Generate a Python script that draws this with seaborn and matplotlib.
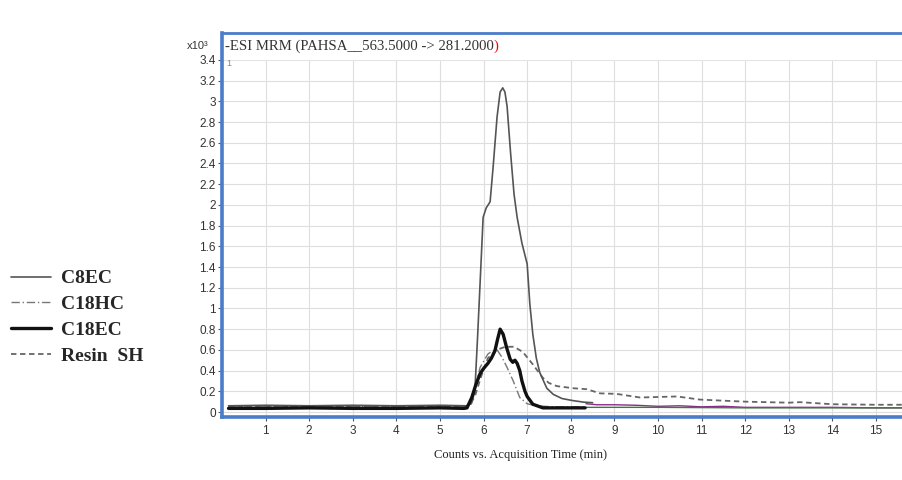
import numpy as np
import pandas as pd
import seaborn as sns
import matplotlib.pyplot as plt
from matplotlib.ticker import FuncFormatter

# retention time (min) / counts (x10^3)
c8ec_t = [0.15, 1.0, 2.0, 3.0, 4.0, 5.0, 5.6, 5.72, 5.80, 5.86, 5.92, 5.99, 6.06, 6.15, 6.22,
          6.31, 6.38, 6.44, 6.49, 6.54, 6.62, 6.70, 6.77, 6.88, 7.0, 7.06, 7.13, 7.21, 7.29,
          7.45, 7.6, 7.8, 8.05, 8.3, 8.5]
c8ec_v = [0.06, 0.065, 0.06, 0.065, 0.06, 0.065, 0.06, 0.08, 0.2, 0.7, 1.24, 1.88, 1.97, 2.03, 2.37,
          2.85, 3.09, 3.13, 3.09, 2.95, 2.5, 2.1, 1.88, 1.63, 1.43, 1.05, 0.75, 0.52, 0.38,
          0.23, 0.17, 0.13, 0.11, 0.095, 0.09]

c18hc_t = [0.15, 1.5, 3.0, 4.5, 5.6, 5.7, 5.8, 5.92, 6.1, 6.2, 6.31, 6.42, 6.54, 6.68, 6.83,
           7.0, 7.2, 7.6, 8.3]
c18hc_v = [0.05, 0.05, 0.055, 0.05, 0.05, 0.1, 0.22, 0.43, 0.56, 0.59, 0.60, 0.53, 0.43, 0.30, 0.14,
           0.08, 0.06, 0.05, 0.05]

c18ec_t = [0.15, 1.0, 2.0, 3.0, 4.0, 5.0, 5.55, 5.62, 5.73, 5.82, 5.92, 6.0, 6.10, 6.18, 6.26,
           6.32, 6.38, 6.45, 6.53, 6.61, 6.67, 6.72, 6.77, 6.83, 6.88, 6.95, 7.0, 7.13, 7.36, 8.33]
c18ec_v = [0.035, 0.035, 0.04, 0.035, 0.035, 0.04, 0.035, 0.04, 0.14, 0.26, 0.37, 0.42, 0.47, 0.52, 0.59,
           0.70, 0.80, 0.75, 0.62, 0.51, 0.48, 0.50, 0.47, 0.40, 0.30, 0.20, 0.15, 0.075, 0.04, 0.04]

resin_t = [0.15, 2.0, 4.0, 5.6, 5.7, 5.8, 5.95, 6.1, 6.3, 6.5, 6.7, 6.9, 7.13, 7.36, 7.5, 7.68,
           8.05, 8.37, 8.67, 9.05, 9.59, 10.0, 10.44, 10.96, 11.72, 12.0, 13.0, 13.26, 14.0, 15.0, 15.6]
resin_v = [0.05, 0.05, 0.05, 0.05, 0.08, 0.15, 0.35, 0.52, 0.60, 0.63, 0.63, 0.58, 0.46, 0.33, 0.28, 0.25,
           0.23, 0.22, 0.18, 0.175, 0.14, 0.145, 0.15, 0.12, 0.105, 0.10, 0.09, 0.095, 0.075, 0.07, 0.07]

# coloured traces after 8.3 min
purple_t = [8.35, 8.6, 9.0, 9.5, 10.0, 10.5, 11.0, 11.5, 12.0, 13.0, 14.0, 15.0, 15.6]
purple_v = [0.08, 0.07, 0.07, 0.065, 0.055, 0.06, 0.05, 0.055, 0.045, 0.045, 0.045, 0.04, 0.04]
green_t = [8.35, 10.0, 12.0, 15.6]
green_v = [0.045, 0.045, 0.04, 0.04]

y_ticks = [round(0.2 * i, 1) for i in range(18)]
x_ticks = list(range(1, 16))

sns.set_style("whitegrid", {"grid.color": "#dedede"})
plt.rcParams['font.family'] = ['Liberation Sans', 'DejaVu Sans']

blue = '#4a7cc9'
fig = plt.figure(figsize=(9.02, 4.8), dpi=100)
ax = fig.add_axes([0.2461, 0.1313, 0.754, 0.8])

sns.lineplot(x=purple_t, y=purple_v, ax=ax, color='#8b2b8b', lw=1.0)
sns.lineplot(x=green_t, y=green_v, ax=ax, color='#3a7d3a', lw=1.0)
sns.lineplot(x=resin_t, y=resin_v, ax=ax, color='#666666', lw=1.3, label='Resin  SH')
sns.lineplot(x=c18hc_t, y=c18hc_v, ax=ax, color='#777777', lw=1.0, label='C18HC')
sns.lineplot(x=c8ec_t, y=c8ec_v, ax=ax, color='#555555', lw=1.2, label='C8EC')
sns.lineplot(x=c18ec_t, y=c18ec_v, ax=ax, color='#111111', lw=2.4, label='C18EC')

lines = {l.get_label(): l for l in ax.get_lines()}
lines['Resin  SH'].set_linestyle((0, (3, 2)))
lines['C18HC'].set_linestyle((0, (6, 2, 1, 2)))

ax.set_xlim(0, 15.6)
ax.set_ylim(-0.048, 3.66)
ax.set_xticks(x_ticks)
ax.set_yticks(y_ticks)
ax.yaxis.set_major_formatter(FuncFormatter(lambda v, p: f"{v:g}"))
ax.tick_params(axis='both', which='major', length=3, width=0.8, color='#555555',
               labelsize=8.5, labelcolor='#333333', pad=1.5)
ax.tick_params(axis='x', bottom=True, pad=3)
ax.tick_params(axis='y', left=True)
ax.set_xlabel('')
ax.set_ylabel('')

# white header band above 3.4
ax.axhspan(3.41, 3.66, color='white', zorder=1)

for side in ['left', 'bottom', 'top']:
    ax.spines[side].set_visible(True)
    ax.spines[side].set_color(blue)
ax.spines['left'].set_linewidth(2.6)
ax.spines['bottom'].set_linewidth(2.6)
ax.spines['top'].set_linewidth(2.0)
ax.spines['right'].set_visible(False)

ax.get_legend().remove()
handles = [lines['C8EC'], lines['C18HC'], lines['C18EC'], lines['Resin  SH']]
fig.legend(handles, [h.get_label() for h in handles], loc='center left',
           bbox_to_anchor=(0.012, 0.339), frameon=False, borderpad=0, borderaxespad=0,
           handlelength=2.06, handletextpad=0.52, labelspacing=0.42,
           prop={'family': 'Liberation Serif', 'weight': 'bold', 'size': 14})

title = ax.text(0.004, 3.535, '-ESI MRM (PAHSA__563.5000 -> 281.2000', transform=ax.get_yaxis_transform(),
                va='center', ha='left', fontsize=10.6, family='Liberation Serif', color='#333333', zorder=3)
ax.annotate(')', xy=(1, 0), xycoords=title, va='bottom', ha='left', fontsize=10.6,
            family='Liberation Serif', color='red')
ax.text(0.006, 3.37, '1', transform=ax.get_yaxis_transform(), va='center', ha='left',
        fontsize=6.5, color='#888888', zorder=3)
fig.text(0.207, 0.905, 'x10³', fontsize=8, color='#333333', ha='left', va='center')

fig.text(520 / 902, 25 / 480, 'Counts vs. Acquisition Time (min)', ha='center', va='center',
         fontsize=9, family='Liberation Serif', color='#222222')

fig.savefig('out.png', dpi=100)
